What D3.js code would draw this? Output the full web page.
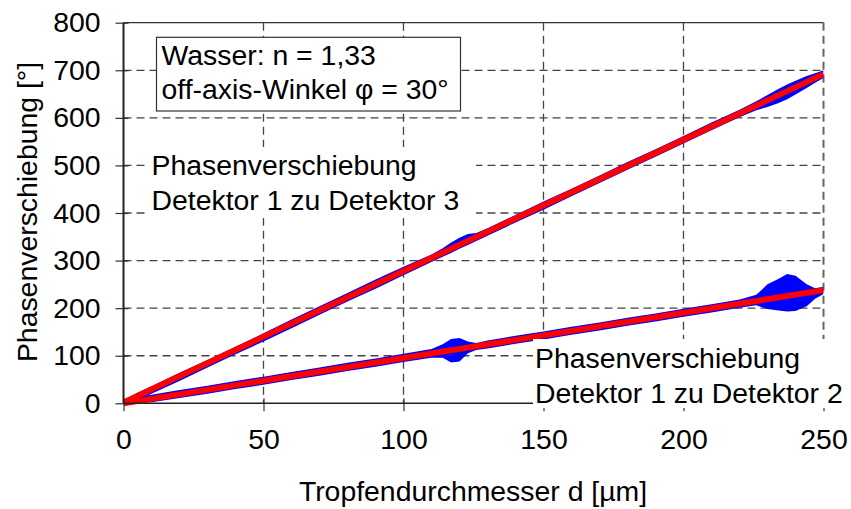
<!DOCTYPE html>
<html>
<head>
<meta charset="utf-8">
<script src="https://cdn.jsdelivr.net/npm/d3@7/dist/d3.min.js"></script>
<style>
  html, body { margin: 0; padding: 0; background: #fff; }
  svg { display: block; font-family: "Liberation Sans", Arial, sans-serif; }
</style>
</head>
<body>
<svg id="chart" width="851" height="509"></svg>
<script>
// ---- data ----
const xTicks = [0, 50, 100, 150, 200, 250];
const yTicks = [0, 100, 200, 300, 400, 500, 600, 700, 800];

// sample positions of the measured bands (d in µm)
const xs    = [0, 5, 10, 20, 30, 40, 50, 60, 70, 80, 90, 100, 110, 114, 117, 120, 123, 126, 130, 140, 150, 160, 170, 180, 190, 200, 210, 220, 226, 230, 234, 237, 240, 244, 247, 250];
// Detektor 1 zu Detektor 3 (measured band, lower / upper bound)
const d13Lo = [0, 6, 20, 47, 75, 103, 130, 158, 186, 214, 241, 269, 297, 308, 316, 325, 333, 341, 352, 380, 407, 435, 463, 491, 518, 546, 574, 601, 616, 623, 631, 639, 649, 663, 674, 684];
const d13Hi = [6, 22, 36, 64, 91, 119, 147, 176, 204, 232, 260, 287, 313, 326, 338, 348, 356, 358, 368, 396, 424, 451, 479, 507, 534, 562, 590, 617, 635, 648, 661, 670, 678, 688, 694, 700];
// Detektor 1 zu Detektor 2 (measured band, lower / upper bound)
const d12Lo = [0, 0, 2, 11, 20, 30, 39, 49, 58, 68, 77, 87, 96, 96, 86, 88, 105, 112, 115, 125, 134, 144, 153, 163, 172, 182, 191, 201, 206, 198, 195, 193, 194, 204, 220, 230];
const d12Hi = [7, 13, 18, 28, 37, 47, 56, 66, 75, 85, 94, 104, 114, 124, 135, 137, 130, 127, 132, 142, 151, 161, 170, 180, 189, 199, 208, 218, 228, 250, 262, 272, 268, 250, 242, 245];
// linear fits (red)
const fitX  = [0, 250];
const fit13 = [2, 692];
const fit12 = [0, 238];

// ---- layout ----
const L = 123.5, R = 823.5, T = 22.7, B = 403.3;
const FONT = 28.4;
const svg = d3.select("#chart");
const x = d3.scaleLinear().domain([0, 250]).range([L, R]);
const y = d3.scaleLinear().domain([0, 800]).range([B, T]);

// grid
const grid = svg.append("g");
grid.selectAll(".hg").data(yTicks.filter(v => v > 0 && v < 800)).enter().append("line")
  .attr("x1", L).attr("x2", R).attr("y1", d => y(d)).attr("y2", d => y(d))
  .attr("stroke", "#444").attr("stroke-width", 1.3).attr("stroke-dasharray", "8,5");
grid.selectAll(".vg").data(xTicks.filter(v => v > 0)).enter().append("line")
  .attr("y1", T).attr("y2", B).attr("x1", d => x(d)).attr("x2", d => x(d))
  .attr("stroke", d => d === 250 ? "#666" : "#444")
  .attr("stroke-width", d => d === 250 ? 2 : 1.3).attr("stroke-dasharray", "8,5");
// top border
svg.append("line").attr("x1", L).attr("x2", R).attr("y1", T).attr("y2", T)
  .attr("stroke", "#333").attr("stroke-width", 1.2);

// clip
svg.append("clipPath").attr("id", "clip").append("rect")
  .attr("x", L).attr("y", T - 5).attr("width", R - L).attr("height", B - T + 10);

const dataG = svg.append("g").attr("clip-path", "url(#clip)");
const area = (lo, hi) => d3.area()
  .x((d, i) => x(xs[i])).y0((d, i) => y(lo[i])).y1((d, i) => y(hi[i]))(xs);
dataG.append("path").attr("d", area(d13Lo, d13Hi)).attr("fill", "#0000ff");
dataG.append("path").attr("d", area(d12Lo, d12Hi)).attr("fill", "#0000ff");
const line = vals => d3.line().x((d, i) => x(fitX[i])).y((d, i) => y(vals[i]))(fitX);
dataG.append("path").attr("d", line(fit13)).attr("fill", "none").attr("stroke", "#ff0000").attr("stroke-width", 5.8);
dataG.append("path").attr("d", line(fit12)).attr("fill", "none").attr("stroke", "#ff0000").attr("stroke-width", 5.8);

// axes
const yAxis = d3.axisLeft(y).tickValues(yTicks).tickSize(0).tickPadding(23).tickFormat(d3.format("d"));
const gy = svg.append("g").attr("transform", `translate(${L},0)`).call(yAxis);
gy.select(".domain").remove();
gy.selectAll("text").attr("font-size", FONT).attr("fill", "#000").attr("font-family", "Liberation Sans, Arial, sans-serif");
gy.selectAll(".tick").append("line").attr("x1", -8).attr("x2", 5).attr("stroke", "#333").attr("stroke-width", 1.2);

const xAxis = d3.axisBottom(x).tickValues(xTicks).tickSize(0).tickPadding(26).tickFormat(d3.format("d"));
const gx = svg.append("g").attr("transform", `translate(0,${B})`).call(xAxis);
gx.select(".domain").remove();
gx.selectAll("text").attr("font-size", FONT).attr("fill", "#000").attr("font-family", "Liberation Sans, Arial, sans-serif");
gx.selectAll(".tick").append("line").attr("y1", -5).attr("y2", 8).attr("stroke", "#333").attr("stroke-width", 1.2);

svg.append("line").attr("x1", L).attr("x2", L).attr("y1", T).attr("y2", B).attr("stroke", "#222").attr("stroke-width", 2);
svg.append("line").attr("x1", L).attr("x2", R).attr("y1", B).attr("y2", B).attr("stroke", "#222").attr("stroke-width", 1.6);

// axis titles
svg.append("text").attr("transform", "translate(37,212) rotate(-90)").attr("text-anchor", "middle")
  .attr("font-size", FONT).text("Phasenverschiebung [°]");
svg.append("text").attr("x", 473).attr("y", 501).attr("text-anchor", "middle")
  .attr("font-size", FONT).text("Tropfendurchmesser d [µm]");

// info box
svg.append("rect").attr("x", 156.5).attr("y", 37.3).attr("width", 304).attr("height", 73.7)
  .attr("fill", "#fff").attr("stroke", "#333").attr("stroke-width", 1.2);
svg.append("text").attr("x", 161.5).attr("y", 64.5).attr("font-size", FONT).text("Wasser: n = 1,33");
svg.append("text").attr("x", 161.5).attr("y", 99).attr("font-size", FONT).text("off-axis-Winkel φ = 30°");

// series labels (white background)
svg.append("rect").attr("x", 148).attr("y", 147).attr("width", 328).attr("height", 71).attr("fill", "#fff");
svg.append("text").attr("x", 151.5).attr("y", 175).attr("font-size", FONT).text("Phasenverschiebung");
svg.append("text").attr("x", 151.5).attr("y", 210).attr("font-size", FONT).text("Detektor 1 zu Detektor 3");

svg.append("rect").attr("x", 533).attr("y", 339).attr("width", 316).attr("height", 69).attr("fill", "#fff");
svg.append("text").attr("x", 535).attr("y", 368).attr("font-size", FONT).text("Phasenverschiebung");
svg.append("text").attr("x", 535).attr("y", 402.5).attr("font-size", FONT).text("Detektor 1 zu Detektor 2");
</script>
</body>
</html>
